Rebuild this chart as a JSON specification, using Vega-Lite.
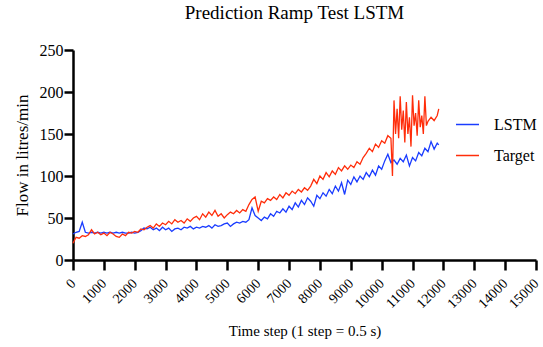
{
  "$schema": "https://vega.github.io/schema/vega-lite/v6.json",
  "autosize": {"type": "none"},
  "width": 463,
  "height": 210,
  "padding": {"left": 73, "top": 50, "right": 7, "bottom": 87},
  "background": "white",
  "config": {
    "font": "Liberation Serif",
    "view": {"stroke": null}
  },
  "title": {
    "text": "Prediction Ramp Test LSTM",
    "font": "Liberation Serif",
    "fontSize": 19,
    "fontWeight": "normal",
    "color": "black",
    "anchor": "middle",
    "dx": -10,
    "offset": 19
  },
  "data": {
    "values": [
      {"step": 0, "flow": 31, "series": "LSTM"},
      {"step": 100, "flow": 33, "series": "LSTM"},
      {"step": 200, "flow": 34, "series": "LSTM"},
      {"step": 300, "flow": 45, "series": "LSTM"},
      {"step": 400, "flow": 33, "series": "LSTM"},
      {"step": 500, "flow": 32, "series": "LSTM"},
      {"step": 600, "flow": 33, "series": "LSTM"},
      {"step": 700, "flow": 32, "series": "LSTM"},
      {"step": 800, "flow": 33, "series": "LSTM"},
      {"step": 900, "flow": 32, "series": "LSTM"},
      {"step": 1000, "flow": 33, "series": "LSTM"},
      {"step": 1100, "flow": 32, "series": "LSTM"},
      {"step": 1200, "flow": 33, "series": "LSTM"},
      {"step": 1300, "flow": 32, "series": "LSTM"},
      {"step": 1400, "flow": 33, "series": "LSTM"},
      {"step": 1500, "flow": 32, "series": "LSTM"},
      {"step": 1600, "flow": 33, "series": "LSTM"},
      {"step": 1700, "flow": 32, "series": "LSTM"},
      {"step": 1800, "flow": 32, "series": "LSTM"},
      {"step": 1900, "flow": 33, "series": "LSTM"},
      {"step": 2000, "flow": 32, "series": "LSTM"},
      {"step": 2100, "flow": 33, "series": "LSTM"},
      {"step": 2200, "flow": 35, "series": "LSTM"},
      {"step": 2300, "flow": 38, "series": "LSTM"},
      {"step": 2400, "flow": 37, "series": "LSTM"},
      {"step": 2500, "flow": 39, "series": "LSTM"},
      {"step": 2600, "flow": 36, "series": "LSTM"},
      {"step": 2700, "flow": 38, "series": "LSTM"},
      {"step": 2800, "flow": 35, "series": "LSTM"},
      {"step": 2900, "flow": 39, "series": "LSTM"},
      {"step": 3000, "flow": 36, "series": "LSTM"},
      {"step": 3100, "flow": 38, "series": "LSTM"},
      {"step": 3200, "flow": 34, "series": "LSTM"},
      {"step": 3300, "flow": 37, "series": "LSTM"},
      {"step": 3400, "flow": 38, "series": "LSTM"},
      {"step": 3500, "flow": 36, "series": "LSTM"},
      {"step": 3600, "flow": 39, "series": "LSTM"},
      {"step": 3700, "flow": 38, "series": "LSTM"},
      {"step": 3800, "flow": 40, "series": "LSTM"},
      {"step": 3900, "flow": 37, "series": "LSTM"},
      {"step": 4000, "flow": 39, "series": "LSTM"},
      {"step": 4100, "flow": 38, "series": "LSTM"},
      {"step": 4200, "flow": 40, "series": "LSTM"},
      {"step": 4300, "flow": 39, "series": "LSTM"},
      {"step": 4400, "flow": 41, "series": "LSTM"},
      {"step": 4500, "flow": 38, "series": "LSTM"},
      {"step": 4600, "flow": 42, "series": "LSTM"},
      {"step": 4700, "flow": 40, "series": "LSTM"},
      {"step": 4800, "flow": 41, "series": "LSTM"},
      {"step": 4900, "flow": 43, "series": "LSTM"},
      {"step": 5000, "flow": 44, "series": "LSTM"},
      {"step": 5100, "flow": 40, "series": "LSTM"},
      {"step": 5200, "flow": 43, "series": "LSTM"},
      {"step": 5300, "flow": 45, "series": "LSTM"},
      {"step": 5400, "flow": 44, "series": "LSTM"},
      {"step": 5500, "flow": 46, "series": "LSTM"},
      {"step": 5600, "flow": 45, "series": "LSTM"},
      {"step": 5700, "flow": 48, "series": "LSTM"},
      {"step": 5800, "flow": 62, "series": "LSTM"},
      {"step": 5900, "flow": 53, "series": "LSTM"},
      {"step": 6000, "flow": 50, "series": "LSTM"},
      {"step": 6100, "flow": 47, "series": "LSTM"},
      {"step": 6200, "flow": 51, "series": "LSTM"},
      {"step": 6300, "flow": 49, "series": "LSTM"},
      {"step": 6400, "flow": 55, "series": "LSTM"},
      {"step": 6500, "flow": 52, "series": "LSTM"},
      {"step": 6600, "flow": 58, "series": "LSTM"},
      {"step": 6700, "flow": 56, "series": "LSTM"},
      {"step": 6800, "flow": 61, "series": "LSTM"},
      {"step": 6900, "flow": 57, "series": "LSTM"},
      {"step": 7000, "flow": 64, "series": "LSTM"},
      {"step": 7100, "flow": 60, "series": "LSTM"},
      {"step": 7200, "flow": 68, "series": "LSTM"},
      {"step": 7300, "flow": 63, "series": "LSTM"},
      {"step": 7400, "flow": 71, "series": "LSTM"},
      {"step": 7500, "flow": 66, "series": "LSTM"},
      {"step": 7600, "flow": 74, "series": "LSTM"},
      {"step": 7700, "flow": 70, "series": "LSTM"},
      {"step": 7800, "flow": 64, "series": "LSTM"},
      {"step": 7900, "flow": 77, "series": "LSTM"},
      {"step": 8000, "flow": 73, "series": "LSTM"},
      {"step": 8100, "flow": 80, "series": "LSTM"},
      {"step": 8200, "flow": 76, "series": "LSTM"},
      {"step": 8300, "flow": 84, "series": "LSTM"},
      {"step": 8400, "flow": 79, "series": "LSTM"},
      {"step": 8500, "flow": 88, "series": "LSTM"},
      {"step": 8600, "flow": 82, "series": "LSTM"},
      {"step": 8700, "flow": 92, "series": "LSTM"},
      {"step": 8800, "flow": 78, "series": "LSTM"},
      {"step": 8900, "flow": 95, "series": "LSTM"},
      {"step": 9000, "flow": 90, "series": "LSTM"},
      {"step": 9100, "flow": 99, "series": "LSTM"},
      {"step": 9200, "flow": 93, "series": "LSTM"},
      {"step": 9300, "flow": 100, "series": "LSTM"},
      {"step": 9400, "flow": 96, "series": "LSTM"},
      {"step": 9500, "flow": 104, "series": "LSTM"},
      {"step": 9600, "flow": 99, "series": "LSTM"},
      {"step": 9700, "flow": 107, "series": "LSTM"},
      {"step": 9800, "flow": 101, "series": "LSTM"},
      {"step": 9900, "flow": 112, "series": "LSTM"},
      {"step": 10000, "flow": 108, "series": "LSTM"},
      {"step": 10100, "flow": 118, "series": "LSTM"},
      {"step": 10200, "flow": 126, "series": "LSTM"},
      {"step": 10300, "flow": 116, "series": "LSTM"},
      {"step": 10400, "flow": 119, "series": "LSTM"},
      {"step": 10500, "flow": 114, "series": "LSTM"},
      {"step": 10600, "flow": 121, "series": "LSTM"},
      {"step": 10700, "flow": 117, "series": "LSTM"},
      {"step": 10800, "flow": 125, "series": "LSTM"},
      {"step": 10900, "flow": 112, "series": "LSTM"},
      {"step": 11000, "flow": 122, "series": "LSTM"},
      {"step": 11100, "flow": 118, "series": "LSTM"},
      {"step": 11200, "flow": 128, "series": "LSTM"},
      {"step": 11300, "flow": 124, "series": "LSTM"},
      {"step": 11400, "flow": 133, "series": "LSTM"},
      {"step": 11500, "flow": 129, "series": "LSTM"},
      {"step": 11600, "flow": 141, "series": "LSTM"},
      {"step": 11700, "flow": 132, "series": "LSTM"},
      {"step": 11800, "flow": 139, "series": "LSTM"},
      {"step": 11850, "flow": 137, "series": "LSTM"},
      {"step": 0, "flow": 20, "series": "Target"},
      {"step": 100, "flow": 27, "series": "Target"},
      {"step": 200, "flow": 26, "series": "Target"},
      {"step": 300, "flow": 29, "series": "Target"},
      {"step": 400, "flow": 28, "series": "Target"},
      {"step": 500, "flow": 30, "series": "Target"},
      {"step": 600, "flow": 36, "series": "Target"},
      {"step": 700, "flow": 31, "series": "Target"},
      {"step": 800, "flow": 33, "series": "Target"},
      {"step": 900, "flow": 30, "series": "Target"},
      {"step": 1000, "flow": 32, "series": "Target"},
      {"step": 1100, "flow": 29, "series": "Target"},
      {"step": 1200, "flow": 33, "series": "Target"},
      {"step": 1300, "flow": 31, "series": "Target"},
      {"step": 1400, "flow": 28, "series": "Target"},
      {"step": 1500, "flow": 27, "series": "Target"},
      {"step": 1600, "flow": 31, "series": "Target"},
      {"step": 1700, "flow": 29, "series": "Target"},
      {"step": 1800, "flow": 33, "series": "Target"},
      {"step": 1900, "flow": 32, "series": "Target"},
      {"step": 2000, "flow": 34, "series": "Target"},
      {"step": 2100, "flow": 33, "series": "Target"},
      {"step": 2200, "flow": 37, "series": "Target"},
      {"step": 2300, "flow": 36, "series": "Target"},
      {"step": 2400, "flow": 39, "series": "Target"},
      {"step": 2500, "flow": 41, "series": "Target"},
      {"step": 2600, "flow": 38, "series": "Target"},
      {"step": 2700, "flow": 43, "series": "Target"},
      {"step": 2800, "flow": 40, "series": "Target"},
      {"step": 2900, "flow": 44, "series": "Target"},
      {"step": 3000, "flow": 42, "series": "Target"},
      {"step": 3100, "flow": 46, "series": "Target"},
      {"step": 3200, "flow": 43, "series": "Target"},
      {"step": 3300, "flow": 48, "series": "Target"},
      {"step": 3400, "flow": 45, "series": "Target"},
      {"step": 3500, "flow": 47, "series": "Target"},
      {"step": 3600, "flow": 44, "series": "Target"},
      {"step": 3700, "flow": 49, "series": "Target"},
      {"step": 3800, "flow": 46, "series": "Target"},
      {"step": 3900, "flow": 50, "series": "Target"},
      {"step": 4000, "flow": 52, "series": "Target"},
      {"step": 4100, "flow": 48, "series": "Target"},
      {"step": 4200, "flow": 55, "series": "Target"},
      {"step": 4300, "flow": 51, "series": "Target"},
      {"step": 4400, "flow": 57, "series": "Target"},
      {"step": 4500, "flow": 53, "series": "Target"},
      {"step": 4600, "flow": 59, "series": "Target"},
      {"step": 4700, "flow": 52, "series": "Target"},
      {"step": 4800, "flow": 55, "series": "Target"},
      {"step": 4900, "flow": 50, "series": "Target"},
      {"step": 5000, "flow": 54, "series": "Target"},
      {"step": 5100, "flow": 57, "series": "Target"},
      {"step": 5200, "flow": 55, "series": "Target"},
      {"step": 5300, "flow": 59, "series": "Target"},
      {"step": 5400, "flow": 56, "series": "Target"},
      {"step": 5500, "flow": 60, "series": "Target"},
      {"step": 5600, "flow": 58, "series": "Target"},
      {"step": 5700, "flow": 66, "series": "Target"},
      {"step": 5800, "flow": 72, "series": "Target"},
      {"step": 5900, "flow": 75, "series": "Target"},
      {"step": 6000, "flow": 58, "series": "Target"},
      {"step": 6100, "flow": 70, "series": "Target"},
      {"step": 6200, "flow": 68, "series": "Target"},
      {"step": 6300, "flow": 73, "series": "Target"},
      {"step": 6400, "flow": 71, "series": "Target"},
      {"step": 6500, "flow": 75, "series": "Target"},
      {"step": 6600, "flow": 72, "series": "Target"},
      {"step": 6700, "flow": 78, "series": "Target"},
      {"step": 6800, "flow": 74, "series": "Target"},
      {"step": 6900, "flow": 80, "series": "Target"},
      {"step": 7000, "flow": 77, "series": "Target"},
      {"step": 7100, "flow": 82, "series": "Target"},
      {"step": 7200, "flow": 79, "series": "Target"},
      {"step": 7300, "flow": 84, "series": "Target"},
      {"step": 7400, "flow": 81, "series": "Target"},
      {"step": 7500, "flow": 86, "series": "Target"},
      {"step": 7600, "flow": 83, "series": "Target"},
      {"step": 7700, "flow": 88, "series": "Target"},
      {"step": 7800, "flow": 96, "series": "Target"},
      {"step": 7900, "flow": 91, "series": "Target"},
      {"step": 8000, "flow": 100, "series": "Target"},
      {"step": 8100, "flow": 96, "series": "Target"},
      {"step": 8200, "flow": 104, "series": "Target"},
      {"step": 8300, "flow": 99, "series": "Target"},
      {"step": 8400, "flow": 106, "series": "Target"},
      {"step": 8500, "flow": 102, "series": "Target"},
      {"step": 8600, "flow": 110, "series": "Target"},
      {"step": 8700, "flow": 106, "series": "Target"},
      {"step": 8800, "flow": 112, "series": "Target"},
      {"step": 8900, "flow": 108, "series": "Target"},
      {"step": 9000, "flow": 113, "series": "Target"},
      {"step": 9100, "flow": 110, "series": "Target"},
      {"step": 9200, "flow": 117, "series": "Target"},
      {"step": 9300, "flow": 114, "series": "Target"},
      {"step": 9400, "flow": 122, "series": "Target"},
      {"step": 9500, "flow": 127, "series": "Target"},
      {"step": 9600, "flow": 133, "series": "Target"},
      {"step": 9700, "flow": 129, "series": "Target"},
      {"step": 9800, "flow": 138, "series": "Target"},
      {"step": 9900, "flow": 134, "series": "Target"},
      {"step": 10000, "flow": 142, "series": "Target"},
      {"step": 10100, "flow": 139, "series": "Target"},
      {"step": 10200, "flow": 148, "series": "Target"},
      {"step": 10300, "flow": 145, "series": "Target"},
      {"step": 10350, "flow": 100, "series": "Target"},
      {"step": 10400, "flow": 190, "series": "Target"},
      {"step": 10450, "flow": 150, "series": "Target"},
      {"step": 10500, "flow": 180, "series": "Target"},
      {"step": 10550, "flow": 145, "series": "Target"},
      {"step": 10600, "flow": 195, "series": "Target"},
      {"step": 10650, "flow": 155, "series": "Target"},
      {"step": 10700, "flow": 178, "series": "Target"},
      {"step": 10750, "flow": 140, "series": "Target"},
      {"step": 10800, "flow": 188, "series": "Target"},
      {"step": 10850, "flow": 150, "series": "Target"},
      {"step": 10900, "flow": 170, "series": "Target"},
      {"step": 10950, "flow": 135, "series": "Target"},
      {"step": 11000, "flow": 196, "series": "Target"},
      {"step": 11050, "flow": 160, "series": "Target"},
      {"step": 11100, "flow": 175, "series": "Target"},
      {"step": 11150, "flow": 148, "series": "Target"},
      {"step": 11200, "flow": 190, "series": "Target"},
      {"step": 11250, "flow": 158, "series": "Target"},
      {"step": 11300, "flow": 172, "series": "Target"},
      {"step": 11350, "flow": 150, "series": "Target"},
      {"step": 11400, "flow": 195, "series": "Target"},
      {"step": 11450, "flow": 160, "series": "Target"},
      {"step": 11500, "flow": 165, "series": "Target"},
      {"step": 11600, "flow": 170, "series": "Target"},
      {"step": 11700, "flow": 166, "series": "Target"},
      {"step": 11800, "flow": 172, "series": "Target"},
      {"step": 11850, "flow": 180, "series": "Target"}
    ]
  },
  "mark": {"type": "line", "strokeWidth": 1.3, "interpolate": "linear"},
  "encoding": {
    "x": {
      "field": "step",
      "type": "quantitative",
      "scale": {"domain": [0, 15000], "nice": false},
      "axis": {
        "title": "Time step (1 step = 0.5 s)",
        "titleFont": "Liberation Serif",
        "titleFontSize": 15,
        "titleFontWeight": "normal",
        "titleColor": "black",
        "titlePadding": 13,
        "values": [0, 1000, 2000, 3000, 4000, 5000, 6000, 7000, 8000, 9000, 10000, 11000, 12000, 13000, 14000, 15000],
        "format": "d",
        "labelAngle": -45,
        "labelAlign": "right",
        "labelBaseline": "middle",
        "labelFlush": false,
        "labelFont": "Liberation Serif",
        "labelFontSize": 14,
        "labelColor": "black",
        "labelPadding": 11,
        "labelOverlap": false,
        "grid": false,
        "domainColor": "black",
        "domainWidth": 2.5,
        "tickColor": "black",
        "tickWidth": 2.5,
        "tickSize": 10
      }
    },
    "y": {
      "field": "flow",
      "type": "quantitative",
      "scale": {"domain": [0, 250], "nice": false},
      "axis": {
        "title": "Flow in litres/min",
        "titleFont": "Liberation Serif",
        "titleFontSize": 17,
        "titleFontWeight": "normal",
        "titleColor": "black",
        "titlePadding": 8,
        "values": [0, 50, 100, 150, 200, 250],
        "labelFont": "Liberation Serif",
        "labelFontSize": 16,
        "labelColor": "black",
        "labelPadding": 1,
        "labelFlush": false,
        "grid": false,
        "domainColor": "black",
        "domainWidth": 2.5,
        "tickColor": "black",
        "tickWidth": 2.5,
        "tickSize": 9
      }
    },
    "color": {
      "field": "series",
      "type": "nominal",
      "scale": {"domain": ["LSTM", "Target"], "range": ["#1a3cff", "#ff2d0a"]},
      "legend": {
        "title": null,
        "orient": "none",
        "legendX": 382,
        "legendY": 62,
        "symbolType": "stroke",
        "symbolSize": 529,
        "symbolStrokeWidth": 1.5,
        "labelFont": "Liberation Serif",
        "labelFontSize": 16,
        "labelColor": "black",
        "labelOffset": 14,
        "rowPadding": 10
      }
    }
  }
}
